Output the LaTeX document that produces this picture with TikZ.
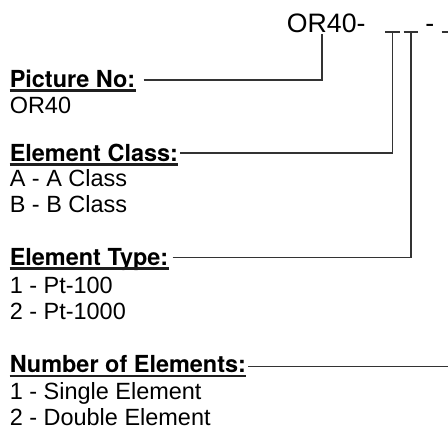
\documentclass[tikz,border=0pt]{standalone}
\usepackage{fontspec}
\setmainfont{Liberation Sans}
\newfontfamily\heros{TeX Gyre Heros}
\usepackage{xcolor}

\begin{document}
\begin{tikzpicture}[x=0.75pt,y=-0.75pt,
    hdr/.style={anchor=base west,inner sep=0pt,font=\fontsize{17.6}{20}\heros\bfseries},
    txt/.style={anchor=base west,inner sep=0pt,font=\fontsize{17.6}{20}\selectfont},
    big/.style={anchor=base west,inner sep=0pt,font=\fontsize{20}{24}\selectfont},
    lead/.style={line width=1.2pt,draw=black!80},
    uln/.style={line width=1.7pt,draw=black!88}]
        \useasboundingbox (0,0) rectangle (448,432);
        % headings
        \node[hdr] (pic) at (9.5,87) {Picture No:};
        \node[hdr] (cls) at (9.5,161) {Element Class:};
        \node[hdr] (typ) at (9.5,265) {Element Type:};
        \node[hdr] (num) at (9.5,372) {Number of Elements:};
        \draw[uln] ([yshift=-2.6pt]pic.base west) -- ([yshift=-2.6pt]pic.base east);
        \draw[uln] ([yshift=-2.6pt]cls.base west) -- ([yshift=-2.6pt]cls.base east);
        \draw[uln] ([yshift=-2.6pt]typ.base west) -- ([yshift=-2.6pt]typ.base east);
        \draw[uln] ([yshift=-2.9pt]num.base west) -- ([yshift=-2.9pt]num.base east);

        % order code on top
        \node[big] (code) at (286.7,32) {OR40-};
        \node[big] (dash) at (425,32) {-};
        \coordinate (t0) at (322,34);
        \coordinate (t1) at (392.5,32);
        \coordinate (t2) at (411,32);
        \coordinate (t3) at (449,32);
        \draw[lead] ([xshift=-5.6pt]t1) -- ([xshift=5.6pt]t1);
        \draw[lead] ([xshift=-5.6pt]t2) -- ([xshift=5.6pt]t2);
        \draw[lead] ([xshift=-5.6pt]t3) -- (448,32);

        % options
        \node[txt] (pic1) at (9.5,113) {OR40};
        \node[txt] (cls1) at (9.5,186) {A - A Class};
        \node[txt] (cls2) at (9.5,212) {B - B Class};
        \node[txt] (typ1) at (9.5,293) {1 - Pt-100};
        \node[txt] (typ2) at (9.5,319) {2 - Pt-1000};
        \node[txt] (num1) at (9.5,399) {1 - Single Element};
        \node[txt] (num2) at (9.5,425) {2 - Double Element};

        % leader lines
        \draw[lead] ([shift={(8,-7)}]pic.base east) -| (t0);
        \draw[lead] ([shift={(2,-8)}]cls.base east) -| (t1);
        \draw[lead] ([shift={(4,-7.5)}]typ.base east) -| (t2);
        \draw[lead] ([shift={(2,-5.5)}]num.base east) -- (448,366.5);
\end{tikzpicture}
\end{document}
